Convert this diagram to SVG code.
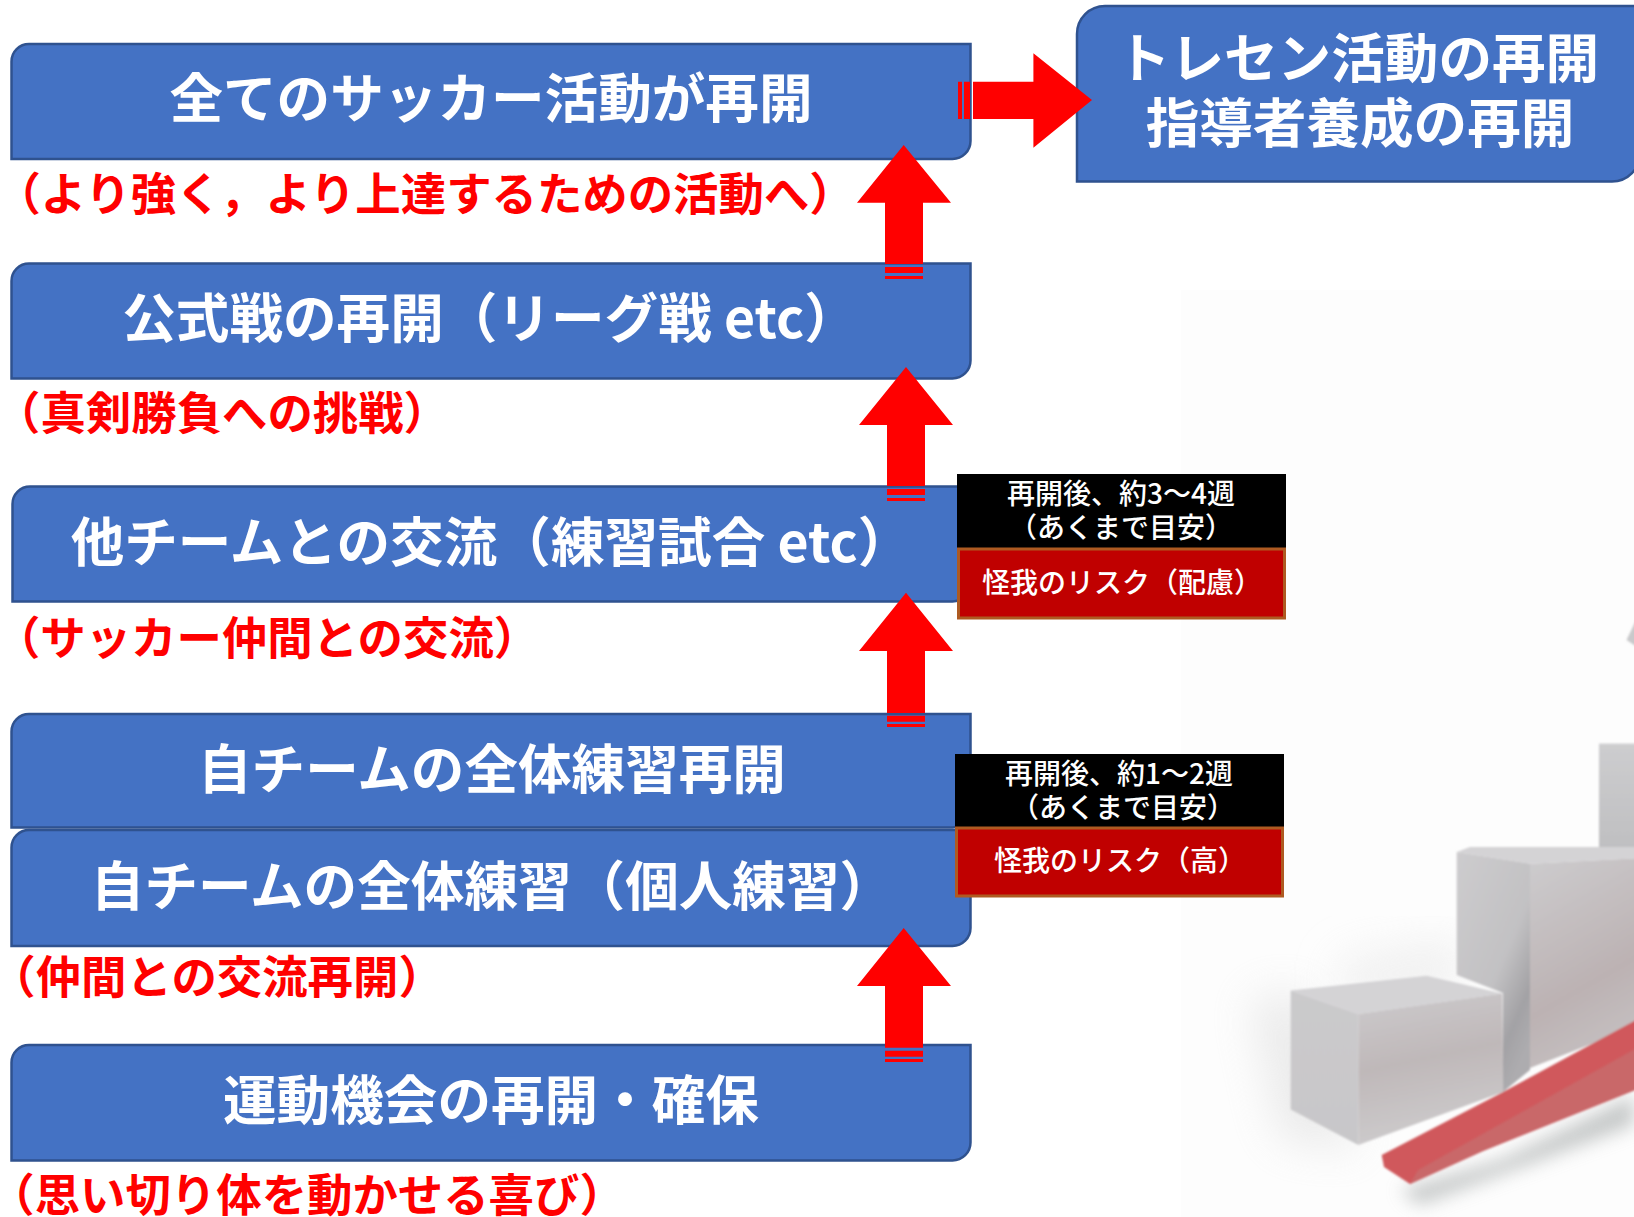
<svg xmlns="http://www.w3.org/2000/svg" width="1634" height="1217" viewBox="0 0 1634 1217">
<style>
text{font-family:"Noto Sans CJK JP","Noto Sans",sans-serif;text-anchor:middle}
.box{fill:#4472c4;stroke:#2f528f;stroke-width:2.5}
.big{font-size:53.6px;font-weight:700;fill:#fff}
.cap{font-size:45.4px;font-weight:700;fill:#f00}
.cap tspan{font-feature-settings:"halt"}
.small{font-size:28px;font-weight:500;fill:#fff}
.note{fill:#000}
.risk{fill:#c00000;stroke:#ae5a21;stroke-width:3}
.arrow{fill:#f00}
</style>
<defs>
<filter id="b1" x="-5%" y="-5%" width="110%" height="110%"><feGaussianBlur stdDeviation="1"/></filter>
<filter id="b8" x="-30%" y="-30%" width="160%" height="160%"><feGaussianBlur stdDeviation="9"/></filter>
<filter id="b25" x="-40%" y="-40%" width="180%" height="180%"><feGaussianBlur stdDeviation="22"/></filter>
<linearGradient id="lf" x1="0" y1="0" x2="0" y2="1"><stop offset="0" stop-color="#cbcacc"/><stop offset="1" stop-color="#c8c7c9"/></linearGradient>
<linearGradient id="rf" x1="0" y1="0" x2="0.2" y2="1"><stop offset="0" stop-color="#cdcbcd"/><stop offset=".5" stop-color="#bfb8b9"/><stop offset="1" stop-color="#cdcbcc"/></linearGradient>
<linearGradient id="lf2" x1="0" y1="0" x2="0.7" y2="1"><stop offset="0" stop-color="#cdccce"/><stop offset=".6" stop-color="#c2c1c3"/><stop offset=".85" stop-color="#a3a2a5"/><stop offset="1" stop-color="#adacaf"/></linearGradient>
<linearGradient id="rf2" x1="0" y1="0" x2="0.3" y2="1"><stop offset="0" stop-color="#cdccce"/><stop offset=".7" stop-color="#bcb2b3"/><stop offset="1" stop-color="#c4bebf"/></linearGradient>
<linearGradient id="c3" x1="0" y1="0" x2="0" y2="1"><stop offset="0" stop-color="#cdcdcf"/><stop offset="1" stop-color="#bfbfc1"/></linearGradient>
</defs>

<g id="background-picture">
<rect x="1181" y="290" width="453" height="927" fill="#fdfdfd"/>
<path d="M1250 1000L1300 990L1360 1150L1280 1140Z" fill="#d4d4d4" opacity=".45" filter="url(#b25)"/>
<path d="M1340 960L1460 940L1460 990L1340 1000Z" fill="#e6e6e6" opacity=".6" filter="url(#b25)"/>
<path d="M1400 1190L1500 1160L1634 1095V1125L1420 1205Z" fill="#a9adad" opacity=".65" filter="url(#b8)"/>
<g filter="url(#b1)">
<rect x="1599" y="743.600" width="40" height="105" fill="url(#c3)"/>
<path d="M1456.7 851.900L1470 847H1640V858L1530 863.700Z" fill="#d4d3d5"/>
<path d="M1456.7 851.900L1530 863.700V1070L1503 1092V993L1456.7 975Z" fill="url(#lf2)"/>
<path d="M1530 863.700L1640 858V1025L1530 1068Z" fill="url(#rf2)"/>
<path d="M1290.7 990.400L1426.7 975.800L1502.3 993.500L1358.3 1014Z" fill="#d4d3d5"/>
<path d="M1290.7 990.400L1358.3 1014V1145L1290.7 1109.600Z" fill="url(#lf)"/>
<path d="M1358.3 1014L1502.3 993.500L1503.3 1092L1358.3 1145Z" fill="url(#rf)"/>
<path d="M1640 612L1626.5 640L1640 649Z" fill="#c9c9cb"/>
<path d="M1381.7 1155L1503 1092L1640 1018V1088L1483 1151L1410 1184L1384 1167Z" fill="#d0585c"/>
<path d="M1410 1184L1418 1170L1640 1046V1088L1483 1151Z" fill="#c96769"/>
</g>
</g>

<g id="node-all-activities">
<path class="box" d="M29 44H970.500V141A18 18 0 0 1 952.500 159H11.500V61.500A17.500 17.500 0 0 1 29 44Z"/>
<text class="big" x="491" y="118">全てのサッカー活動が再開</text>
<text class="cap" x="436.400" y="211"><tspan>（</tspan>より強く，より上達するための活動へ）</text>
</g>
<g id="node-official-match">
<path class="box" d="M29 263.500H970.500V360.500A18 18 0 0 1 952.500 378.500H11.500V281A17.500 17.500 0 0 1 29 263.500Z"/>
<text class="big" x="490" y="338">公式戦の再開（リーグ戦 etc）</text>
<text class="cap" x="233.400" y="430"><tspan>（</tspan>真剣勝負への挑戦）</text>
</g>
<g id="node-other-teams">
<path class="box" d="M30 486.500H970.500V583.500A18 18 0 0 1 952.500 601.500H12.500V504A17.500 17.500 0 0 1 30 486.500Z"/>
<text class="big" x="491" y="562">他チームとの交流（練習試合 etc）</text>
<text class="cap" x="278.400" y="655"><tspan>（</tspan>サッカー仲間との交流）</text>
</g>
<g id="node-team-practice">
<path class="box" d="M29 714H970.500V809.500A18 18 0 0 1 952.500 827.500H11.500V731.500A17.500 17.500 0 0 1 29 714Z"/>
<text class="big" x="492" y="789">自チームの全体練習再開</text>
</g>
<g id="node-individual-practice">
<path class="box" d="M29 830H970.500V928A18 18 0 0 1 952.500 946H11.500V847.500A17.500 17.500 0 0 1 29 830Z"/>
<text class="big" x="492" y="906">自チームの全体練習（個人練習）</text>
<text class="cap" x="228.400" y="994"><tspan>（</tspan>仲間との交流再開）</text>
</g>
<g id="node-exercise">
<path class="box" d="M29 1045H970.500V1142.500A18 18 0 0 1 952.500 1160.500H11.500V1062.500A17.500 17.500 0 0 1 29 1045Z"/>
<text class="big" x="491" y="1120">運動機会の再開・確保</text>
<text class="cap" x="318.400" y="1212"><tspan>（</tspan>思い切り体を動かせる喜び）</text>
</g>
<g id="node-tracen">
<path class="box" d="M1105 6H1640V153A28 28 0 0 1 1612 181.500H1077V34A28 28 0 0 1 1105 6Z"/>
<text class="big" x="1358" y="78">トレセン活動の再開</text>
<text class="big" x="1360" y="143">指導者養成の再開</text>
</g>
<g id="node-risk-care">
<rect class="note" x="957" y="474" width="329" height="74"/>
<text class="small" x="1121" y="504">再開後、約3～4週</text>
<text class="small" x="1121" y="538">（あくまで目安）</text>
<rect class="risk" x="958.500" y="549" width="326" height="69"/>
<text class="small" x="1122" y="593">怪我のリスク（配慮）</text>
</g>
<g id="node-risk-high">
<rect class="note" x="955" y="754" width="329" height="73"/>
<text class="small" x="1119" y="784">再開後、約1～2週</text>
<text class="small" x="1123" y="818">（あくまで目安）</text>
<rect class="risk" x="956.500" y="828" width="326" height="68"/>
<text class="small" x="1120" y="871">怪我のリスク（高）</text>
</g>

<g id="connectors">
<path class="arrow" d="M903.7 145L951 202.700H923V264H885V202.700H857ZM885 267H923V273H885ZM885 276H923V279H885Z"/>
<path class="arrow" d="M906 367L953 425H925V486H887V425H859ZM887 489H925V495H887ZM887 498H925V501H887Z"/>
<path class="arrow" d="M906 592.700L953 651H925V713H887V651H859ZM887 715.700H925V721.700H887ZM887 724H925V727H887Z"/>
<path class="arrow" d="M903.700 928L951 986H923V1047.700H885V986H857ZM885 1050.700H923V1056.700H885ZM885 1059H923V1062H885Z"/>
<path class="arrow" d="M1092 100L1033.400 147.700V119H973V81.700H1033.400V53.300ZM964 81.700H970V119H964ZM958 81.700H962V119H958Z"/>
</g>
</svg>
